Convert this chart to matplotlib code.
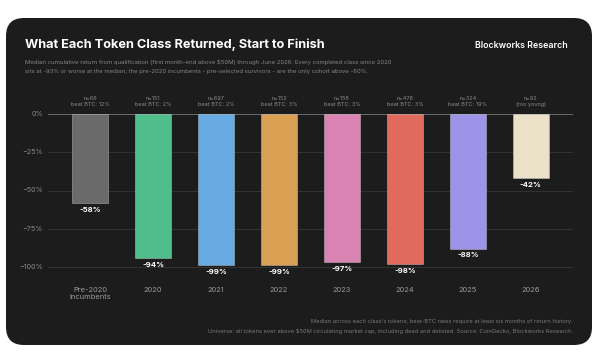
import matplotlib
matplotlib.use("Agg")
import matplotlib.pyplot as plt
from matplotlib.patches import FancyBboxPatch

plt.rcParams['font.family'] = ['Inter', 'DejaVu Sans']

# data
cohorts = ["Pre-2020\nincumbents", "2020", "2021", "2022", "2023", "2024", "2025", "2026"]
median_return = [-58, -94, -99, -99, -97, -98, -88, -42]
n_tokens = [66, 151, 697, 152, 156, 476, 324, 92]
beat_btc = ["beat BTC: 12%", "beat BTC: 2%", "beat BTC: 2%", "beat BTC: 3%",
            "beat BTC: 3%", "beat BTC: 3%", "beat BTC: 19%", "(too young)"]
bar_colors = ["#6a6a6a", "#4fbe8b", "#68abe2", "#d99f52", "#d883b2",
              "#e16a5f", "#9d94e9", "#ebe1c9"]
yticks = [0, -25, -50, -75, -100]

W, H = 600, 353
fig = plt.figure(figsize=(6.0, 3.53), dpi=100)
fig.patch.set_facecolor("white")

card_bg = "#1c1c1c"
card = FancyBboxPatch((6 / W, 1 - 345 / H), 586 / W, 327 / H,
                      boxstyle="round,pad=0,rounding_size=0.03",
                      transform=fig.transFigure, facecolor=card_bg,
                      edgecolor="none", mutation_aspect=W / H, zorder=-10)
fig.patches.append(card)

def fx(px):
    return px / W

def fy(py):
    return 1 - py / H

fig.text(fx(25), fy(45), "What Each Token Class Returned, Start to Finish",
         color="white", fontsize=9.2, fontweight="bold", va="center", ha="left")
fig.text(fx(568), fy(45), "Blockworks Research", color="white", fontsize=6.4,
         fontweight="semibold", va="center", ha="right")
fig.text(fx(25), fy(62),
         "Median cumulative return from qualification (first month-end above $50M) through June 2026. "
         "Every completed class since 2020", color="#858585", fontsize=4.3, va="center", ha="left")
fig.text(fx(25), fy(71),
         "sits at -93% or worse at the median; the pre-2020 incumbents - pre-selected survivors - "
         "are the only cohort above -60%.", color="#858585", fontsize=4.3, va="center", ha="left")

# axes: 0% at y=114px, -100% at y=267px; x from 48 to 573px
px_per_unit = (267 - 114) / 100
ytop, ybot = 12, -108
ax_top = 114 - ytop * px_per_unit
ax_bot = 114 - ybot * px_per_unit
ax = fig.add_axes([fx(48), fy(ax_bot), fx(573 - 48), (ax_bot - ax_top) / H])
ax.set_facecolor("none")
ax.set_xlim(-0.67, 7.67)
ax.set_ylim(ybot, ytop)

for t in yticks:
    ax.axhline(t, color="#6a6a6a" if t == 0 else "#333333", lw=0.7, zorder=1)
    ax.text(-0.75, t, f"{t}%".replace("-", "−"), color="#8a8a8a", fontsize=5.2,
            ha="right", va="center")

x = list(range(len(cohorts)))
ax.bar(x, median_return, width=0.58, color=bar_colors,
       edgecolor=(1, 1, 1, 0.35), linewidth=0.6, zorder=2)

for i, v in enumerate(median_return):
    ax.text(i, v - 2.5, f"{v}%", color="white", fontsize=5.6, fontweight="bold",
            ha="center", va="top")
    ax.text(i, 4.5, f"n={n_tokens[i]}\n{beat_btc[i]}", color="#8a8a8a",
            fontsize=4.0, ha="center", va="bottom", linespacing=1.3)
    ax.text(i, -113, cohorts[i], color="#9a9a9a", fontsize=5.4, ha="center",
            va="top", linespacing=1.2, clip_on=False)

ax.set_xticks([])
ax.set_yticks([])
for s in ax.spines.values():
    s.set_visible(False)

fig.text(fx(573), fy(322),
         "Median across each class's tokens; beat-BTC rates require at least six months of return history.",
         color="#7a7a7a", fontsize=4.1, ha="right", va="center")
fig.text(fx(573), fy(331),
         "Universe: all tokens ever above $50M circulating market cap, including dead and delisted. "
         "Source: CoinGecko, Blockworks Research.",
         color="#7a7a7a", fontsize=4.1, ha="right", va="center")

fig.savefig("out.png", dpi=100, facecolor="white")
